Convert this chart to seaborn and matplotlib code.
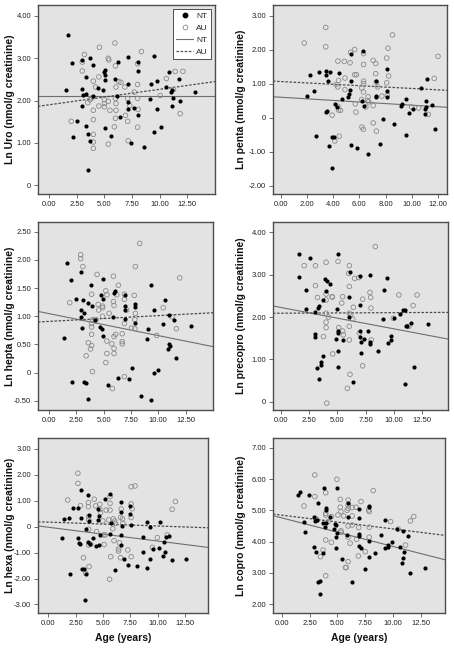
import numpy as np
import pandas as pd
import matplotlib
matplotlib.use("Agg")
import matplotlib.pyplot as plt
import seaborn as sns
from matplotlib.lines import Line2D

# ---- Ln Uro ----
uro_nt_age = [1.7, 1.5, 2.1, 2.2, 2.5, 3.0, 3.0, 3.1, 3.0, 3.3, 3.3, 3.3, 3.5, 3.5, 3.7, 3.7, 3.95, 3.95, 4.4, 4.9,
              5.0, 5.05, 5.05, 5.05, 5.05, 5.6, 6.0, 6.2, 6.1, 6.4, 7.1, 7.1, 7.1, 7.1, 7.4, 7.7, 8.0, 8.0, 8.0, 8.6,
              9.1, 9.2, 9.5, 9.5, 9.8, 9.8, 10.15, 10.6, 10.8, 11.0, 11.1, 11.2, 11.1, 11.7, 11.85, 13.2]
uro_nt = [3.56, 2.24, 2.89, 1.13, 1.52, 2.96, 2.28, 2.13, 1.87, 2.55, 2.16, 1.40, 1.21, 0.35, 3.00, 1.05, 2.84, 2.10, 2.30, 2.26,
          2.67, 2.73, 2.60, 2.49, 1.36, 1.16, 2.52, 2.90, 2.10, 1.61, 3.04, 2.40, 1.96, 1.79, 0.99, 1.83, 2.91, 2.69, 1.65, 0.91,
          2.04, 2.39, 3.06, 1.26, 2.46, 1.80, 1.38, 2.32, 2.67, 2.20, 1.88, 2.06, 2.26, 2.50, 2.00, 2.20]
uro_au_age = [2.0, 3.0, 3.0, 3.2, 3.5, 3.7, 3.85, 4.0, 4.0, 4.0, 4.0, 4.0, 4.0, 4.2, 4.5, 4.5, 4.55, 5.0, 5.0, 5.0,
              5.35, 5.35, 5.4, 5.35, 5.5, 5.9, 5.95, 6.0, 6.05, 6.0, 6.05, 6.05, 6.0, 6.3, 6.5, 6.85, 6.9, 7.1, 7.1, 7.15,
              7.3, 7.7, 8.0, 8.0, 8.0, 8.05, 8.0, 8.35, 10.05, 10.6, 11.4, 11.85, 12.1, 11.25]
uro_au = [1.51, 2.70, 2.91, 3.09, 1.95, 2.02, 2.06, 2.46, 1.77, 1.55, 1.20, 1.02, 0.87, 2.32, 2.56, 1.87, 3.26, 2.02, 1.93, 1.85,
          1.98, 3.00, 2.96, 0.97, 1.77, 1.38, 3.36, 2.82, 2.32, 2.05, 1.93, 1.77, 1.58, 2.45, 2.43, 2.32, 1.65, 2.05, 1.51, 1.05,
          1.88, 2.20, 2.87, 2.38, 2.05, 1.79, 1.37, 3.16, 2.12, 2.52, 2.69, 1.69, 2.69, 2.26]
uro_fit = {"NT": (2.10, 0.0), "AU": (1.90, 0.0366)}   # intercept, slope

# ---- Ln penta ----
penta_nt_age = [2.01, 2.21, 2.57, 2.65, 2.94, 3.43, 3.43, 3.48, 3.55, 3.63, 3.73, 3.70, 3.92, 3.92, 4.09, 4.12, 4.31, 4.41, 4.71, 5.10,
                5.20, 5.29, 5.34, 5.34, 5.34, 5.83, 6.27, 6.20, 6.37, 6.69, 7.25, 7.25, 7.25, 7.55, 7.84, 8.11, 8.11, 8.11, 8.65, 9.17,
                9.26, 9.53, 9.56, 9.80, 10.10, 10.74, 10.98, 11.03, 11.08, 11.08, 11.18, 11.57, 11.76]
penta_nt = [0.64, 1.27, 0.78, -0.52, 1.36, 1.39, 1.26, 0.17, 0.21, 1.08, 1.36, -0.82, -1.49, -0.57, -0.57, 0.42, 0.32, 1.32, 0.54, 0.61,
            0.71, 0.81, 1.08, 1.89, -0.80, -0.88, 1.96, 0.49, 0.36, -1.06, 1.07, 0.64, 0.60, -0.78, -0.03, 1.44, 0.78, 0.61, -0.18, 0.34,
            0.42, 0.56, -0.51, 0.15, 0.25, 0.88, 0.12, 0.25, 0.49, 0.32, 1.15, 0.38, -0.34]
penta_au_age = [1.79, 3.43, 3.43, 3.92, 4.12, 4.22, 4.36, 4.41, 4.36, 4.36, 4.41, 4.46, 4.56, 4.85, 4.90, 4.90, 5.29, 5.34, 5.64, 5.64,
                5.78, 5.69, 5.74, 6.18, 6.18, 6.20, 6.30, 6.32, 6.32, 6.32, 6.32, 6.32, 6.50, 6.62, 6.67, 6.72, 7.06, 7.06, 7.06, 7.25,
                7.25, 7.30, 7.30, 7.40, 7.72, 8.09, 8.09, 8.14, 8.19, 8.24, 8.53, 10.0, 10.54, 11.27, 11.72, 12.01]
penta_au = [2.20, 2.66, 2.09, 0.08, -0.68, 0.98, 1.67, 1.10, 0.91, 0.34, 0.23, -0.54, 0.22, 1.66, 1.17, 0.83, 1.62, 1.93, 2.01, 1.27,
            1.27, 0.41, 0.17, 0.88, 0.54, -0.27, -0.34, 1.89, 1.57, 1.08, 1.01, 0.76, 0.32, 0.51, 0.62, 0.47, 1.69, 0.36, -0.15, 1.60,
            1.30, 1.05, -0.39, 0.91, 0.64, 1.76, 1.03, 0.66, 2.05, 1.23, 2.44, 0.32, 0.29, 0.10, 1.16, 1.81]
penta_fit = {"NT": (0.606, -0.0233), "AU": (1.068, -0.0203)}

# ---- Ln hepta ----
hepta_nt_age = [1.64, 1.4, 2.06, 2.15, 2.45, 2.9, 2.9, 2.95, 3.0, 3.1, 3.2, 3.2, 3.4, 3.6, 3.55, 3.8, 3.97, 4.2, 4.7, 4.87,
                4.8, 4.9, 4.9, 4.9, 5.4, 5.9, 5.95, 6.05, 6.3, 6.95, 6.95, 6.95, 6.95, 7.3, 7.55, 7.85, 7.85, 7.85, 8.45, 8.95,
                9.05, 9.35, 9.35, 9.6, 9.65, 9.97, 10.4, 10.65, 10.87, 10.95, 11.0, 11.1, 11.4, 11.65, 12.96]
hepta_nt = [1.95, 0.62, 1.64, -0.16, 1.30, 1.78, 1.11, 0.99, 0.79, 1.28, 1.05, -0.16, -0.18, -0.46, 1.24, 1.56, 1.18, 0.94, 0.81, 0.78,
            1.38, 1.66, 1.31, 0.65, -0.21, 0.99, 1.42, 1.45, -0.09, 1.38, 1.19, 1.11, 0.95, -0.11, 0.08, 1.21, 1.16, 0.88, -0.41, 0.59,
            0.78, 1.56, -0.48, 0.00, 1.11, 0.05, 0.87, 1.28, 0.42, 1.03, 0.51, 0.47, 0.94, 0.26, 0.82]
hepta_au_age = [1.9, 2.9, 2.9, 3.1, 3.4, 3.6, 3.8, 3.9, 3.9, 3.9, 3.9, 3.9, 3.97, 4.0, 4.3, 4.4, 4.5, 4.55, 4.9, 4.9,
                4.9, 5.2, 5.3, 5.3, 5.3, 5.2, 5.5, 5.75, 5.8, 5.9, 5.9, 5.95, 5.95, 5.95, 5.95, 6.1, 6.2, 6.35, 6.7, 6.7,
                6.7, 6.9, 6.9, 6.9, 6.9, 7.1, 7.55, 7.8, 7.85, 7.85, 7.9, 7.9, 8.3, 9.85, 10.45, 11.25, 11.65, 11.95]
hepta_au = [1.24, 2.09, 2.02, 1.88, 0.30, 0.53, 0.42, 1.39, 0.81, 0.87, 0.68, 0.48, 0.02, 0.94, 0.94, 1.74, 1.21, 1.11, 1.18, 1.15,
            1.00, 1.45, 1.38, 0.56, 0.34, 0.18, 1.05, 0.51, -0.28, 1.26, 1.71, 1.19, 0.64, 0.43, 0.34, 0.68, 1.38, 1.55, 0.69, 0.55,
            0.51, 1.39, 1.30, 0.87, -0.07, 1.11, 0.79, 1.37, 0.94, 0.78, 1.88, 1.05, 2.29, 0.66, 1.15, 0.99, 0.78, 1.68]
hepta_fit = {"NT": (1.047, -0.039), "AU": (0.909, 0.0102)}

# ---- Ln precopro ----
precopro_nt_age = [1.56, 1.56, 2.18, 2.54, 2.24, 3.04, 3.04, 3.04, 3.18, 3.27, 3.36, 3.36, 3.56, 3.56, 3.77, 3.77, 3.95, 4.0, 4.06, 4.36,
                   4.95, 5.06, 5.06, 5.06, 5.06, 5.06, 4.89, 5.5, 6.0, 6.06, 6.12, 6.42, 7.0, 7.0, 7.0, 7.0, 7.09, 7.09, 7.39, 7.74,
                   7.89, 7.89, 7.89, 8.56, 9.06, 9.12, 9.44, 9.5, 9.74, 9.74, 10.03, 10.53, 10.77, 10.97, 11.03, 11.06, 11.18, 11.56, 11.77, 13.03]
precopro_nt = [3.48, 2.94, 2.64, 3.38, 2.20, 2.11, 1.59, 1.52, 0.80, 2.21, 2.25, 0.55, 0.93, 0.86, 1.08, 2.40, 2.90, 2.62, 2.84, 2.78,
               2.20, 3.48, 1.68, 1.63, 1.19, 0.83, 1.48, 1.45, 2.01, 2.48, 3.06, 0.46, 2.97, 2.28, 1.67, 1.54, 1.42, 1.16, 1.48, 1.66,
               2.99, 1.42, 1.37, 1.19, 1.96, 2.64, 2.91, 1.38, 1.56, 1.45, 1.97, 2.07, 2.17, 0.42, 2.17, 1.80, 1.78, 1.85, 0.83, 1.84]
precopro_au_age = [2.06, 3.06, 3.06, 3.24, 3.77, 4.0, 4.0, 4.0, 4.0, 4.0, 4.0, 4.06, 4.21, 4.53, 4.56, 4.59, 5.06, 5.12, 5.39, 5.47,
                   5.47, 5.53, 5.89, 6.0, 6.06, 6.06, 6.06, 6.06, 6.06, 6.12, 6.18, 6.36, 6.42, 6.53, 6.89, 6.95, 7.24, 7.24, 7.89, 7.95,
                   7.98, 8.0, 8.36, 9.95, 10.45, 11.33, 11.71, 12.06]
precopro_au = [3.21, 3.21, 2.74, 2.46, 1.54, 3.29, 2.54, 2.40, 2.09, 1.88, 1.75, -0.03, 2.00, 2.48, 2.47, 1.13, 3.31, 1.75, 2.33, 2.48,
               1.67, 1.58, 0.32, 3.03, 3.21, 2.72, 1.78, 2.09, 1.46, 0.65, 2.05, 1.95, 2.23, 2.91, 2.93, 1.62, 2.42, 0.85, 2.58, 2.46,
               2.21, 1.46, 3.66, 1.97, 2.52, 1.78, 2.27, 2.52]
precopro_fit = {"NT": (2.225, -0.0503), "AU": (2.09, 0.0013)}

# ---- Ln hexa ----
hexa_nt_age = [1.26, 1.47, 1.86, 1.95, 2.25, 2.7, 2.7, 2.76, 2.85, 2.94, 3.0, 3.06, 3.24, 3.36, 3.42, 3.42, 3.6, 3.6, 3.72, 3.72,
               3.84, 4.05, 4.38, 4.5, 4.56, 4.62, 4.65, 4.71, 5.2, 5.6, 5.76, 5.64, 6.06, 6.6, 6.6, 6.6, 6.6, 6.72, 6.9, 7.27,
               7.5, 7.5, 7.57, 8.1, 8.65, 8.65, 9.0, 9.0, 9.3, 9.34, 9.6, 10.18, 10.1, 10.5, 10.57, 10.66, 10.72, 11.05, 11.32, 12.58]
hexa_nt = [-0.45, 0.28, 0.32, -1.84, 0.71, 0.73, -0.42, -0.62, -0.68, 0.35, 1.42, -1.65, -1.65, -2.81, -0.09, -1.83, 1.21, -0.58, 0.45, 0.22,
           -0.68, -0.45, -0.75, 0.26, 0.69, 0.41, -0.71, -0.32, 1.08, 1.26, 0.13, -0.28, -1.67, 0.97, 0.58, -0.32, -0.71, 0.03, -1.26, -1.48,
           0.81, 0.49, 0.05, -1.50, -0.39, -0.99, 0.18, -1.61, 0.00, -1.26, -0.85, 0.17, -0.84, -1.13, -0.60, -0.97, -0.39, -0.35, -1.29, -1.25]
hexa_au_age = [1.77, 2.7, 2.7, 2.94, 3.21, 3.42, 3.66, 3.66, 3.69, 3.69, 3.69, 3.69, 3.72, 3.87, 4.2, 4.32, 4.41, 4.71, 4.71, 4.77,
               4.98, 5.04, 5.1, 5.2, 5.28, 5.52, 5.64, 5.64, 5.64, 5.6, 5.7, 5.9, 5.94, 6.0, 6.06, 6.12, 6.42, 6.42, 6.5, 6.6,
               6.6, 6.66, 6.78, 6.81, 7.27, 7.57, 7.57, 7.57, 7.57, 7.66, 7.93, 9.97, 9.52, 10.87, 11.32, 11.62]
hexa_au = [1.03, 2.06, 1.67, 0.81, -1.20, -1.80, 0.93, 0.77, 0.39, 0.26, -0.10, -0.71, -1.54, -0.68, 1.06, 0.80, -0.19, 0.86, 0.67, 0.54,
           0.22, -0.32, -0.69, -0.32, 0.64, 0.26, 1.16, 0.90, 0.64, -2.03, -1.16, -0.08, 0.30, -0.54, 0.22, 0.13, -0.86, -0.94, -0.62, 0.36,
           -1.20, 0.68, 0.30, 0.13, -0.90, 1.54, 0.88, 0.35, -1.16, 0.69, 1.57, -0.42, -0.80, -0.32, 0.67, 0.97]
hexa_fit = {"NT": (-0.023, -0.0532), "AU": (0.175, -0.0149)}

# ---- Ln copro ----
copro_nt_age = [1.43, 1.64, 2.02, 2.11, 2.44, 2.91, 2.94, 2.97, 3.06, 3.18, 3.24, 3.27, 3.45, 3.45, 3.68, 3.71, 3.83, 3.89, 3.95, 3.95,
                4.01, 4.31, 4.66, 4.78, 4.9, 4.9, 4.9, 4.93, 4.99, 5.44, 5.94, 5.97, 5.85, 6.3, 6.92, 6.92, 6.92, 6.92, 6.92, 7.1,
                7.52, 7.81, 7.81, 7.81, 7.81, 8.41, 8.94, 9.3, 9.3, 9.6, 9.6, 9.89, 10.4, 10.6, 10.78, 10.9, 10.99, 10.9, 11.38, 11.58, 12.92]
copro_nt = [5.49, 5.57, 4.64, 4.32, 5.49, 3.84, 4.80, 4.66, 3.68, 4.69, 5.24, 2.72, 2.74, 2.32, 4.61, 3.63, 5.72, 4.46, 5.06, 5.01,
            4.59, 4.78, 4.39, 4.55, 4.53, 4.16, 3.81, 5.70, 4.29, 3.44, 5.22, 4.78, 4.21, 2.72, 5.03, 4.74, 4.23, 4.18, 3.86, 3.79,
            3.12, 5.14, 5.10, 4.03, 3.52, 3.63, 4.21, 4.69, 3.79, 3.89, 3.82, 4.00, 4.40, 3.84, 3.33, 3.47, 3.68, 4.35, 4.18, 3.01, 3.15]
copro_au_age = [1.99, 2.97, 2.97, 3.06, 3.18, 3.48, 3.71, 3.95, 3.95, 3.95, 3.95, 3.95, 4.16, 4.46, 4.46, 4.96, 5.05, 5.26, 5.26, 5.32,
                5.32, 5.35, 5.56, 5.73, 5.79, 5.88, 5.97, 5.97, 5.97, 5.97, 5.97, 5.97, 6.15, 6.33, 6.33, 6.33, 6.68, 6.74, 6.89, 6.92,
                7.13, 7.52, 7.81, 7.87, 7.87, 7.87, 8.23, 9.8, 10.49, 11.14, 11.58, 11.88]
copro_au = [5.14, 6.13, 5.44, 4.74, 4.69, 3.52, 3.73, 5.56, 4.90, 4.85, 4.05, 2.91, 4.64, 4.80, 3.98, 5.99, 4.85, 5.35, 5.10, 4.96,
            4.35, 4.30, 4.82, 3.17, 3.17, 5.00, 5.33, 5.17, 5.06, 4.50, 4.14, 3.36, 3.95, 4.53, 5.09, 4.82, 5.10, 4.07, 3.54, 4.45,
            5.28, 3.68, 5.01, 4.96, 4.46, 4.14, 5.63, 4.64, 4.40, 3.89, 4.66, 4.80]
copro_fit = {"NT": (4.757, -0.091), "AU": (4.845, -0.0439)}

x_ticks_25 = [0, 2.5, 5, 7.5, 10, 12.5]
x_ticks_2 = [0, 2, 4, 6, 8, 10, 12]

sns.set_style("white")
plt.rcParams["font.family"] = ["Liberation Sans", "DejaVu Sans"]
plt.rcParams["axes.unicode_minus"] = False

panels = [
    dict(nt_x=uro_nt_age, nt_y=uro_nt, au_x=uro_au_age, au_y=uro_au, fit=uro_fit,
         label="Ln Uro (nmol/g creatinine)", xlim=(-1.0, 15.0), ylim=(-0.21, 4.26),
         yticks=[0, 1, 2, 3, 4], xticks=x_ticks_25, rect=[0.0837, 0.7011, 0.3899, 0.2912]),
    dict(nt_x=penta_nt_age, nt_y=penta_nt, au_x=penta_au_age, au_y=penta_au, fit=penta_fit,
         label="Ln penta (nmol/g creatinine)", xlim=(-0.6, 12.7), ylim=(-2.24, 3.32),
         yticks=[-2, -1, 0, 1, 2, 3], xticks=x_ticks_2, rect=[0.6013, 0.7011, 0.3833, 0.2912]),
    dict(nt_x=hepta_nt_age, nt_y=hepta_nt, au_x=hepta_au_age, au_y=hepta_au, fit=hepta_fit,
         label="Ln hepta (nmol/g creatinine)", xlim=(-1.0, 15.0), ylim=(-0.66, 2.67),
         yticks=[-0.5, 0, 0.5, 1, 1.5, 2, 2.5], xticks=x_ticks_25, rect=[0.0837, 0.3683, 0.3855, 0.2897]),
    dict(nt_x=precopro_nt_age, nt_y=precopro_nt, au_x=precopro_au_age, au_y=precopro_au, fit=precopro_fit,
         label="Ln precopro (nmol/g creatinine)", xlim=(-0.7, 14.8), ylim=(-0.19, 4.24),
         yticks=[0, 1, 2, 3, 4], xticks=x_ticks_25, rect=[0.6013, 0.3683, 0.3855, 0.2897]),
    dict(nt_x=hexa_nt_age, nt_y=hexa_nt, au_x=hexa_au_age, au_y=hexa_au, fit=hexa_fit,
         label="Ln hexa (nmol/g creatinine)", xlim=(-0.95, 14.6), ylim=(-3.33, 3.42),
         yticks=[-3, -2, -1, 0, 1, 2, 3], xticks=x_ticks_25, rect=[0.0837, 0.0555, 0.3744, 0.2696]),
    dict(nt_x=copro_nt_age, nt_y=copro_nt, au_x=copro_au_age, au_y=copro_au, fit=copro_fit,
         label="Ln copro (nmol/g creatinine)", xlim=(-0.8, 14.7), ylim=(1.72, 7.31),
         yticks=[2, 3, 4, 5, 6, 7], xticks=x_ticks_25, rect=[0.6013, 0.0555, 0.3789, 0.2696]),
]

def fmt(v):
    return "0" if v == 0 else "%.2f" % v

fig = plt.figure(figsize=(4.54, 6.49), dpi=100)
for i, p in enumerate(panels):
    ax = fig.add_axes(p["rect"])
    ax.set_facecolor("#e3e3e3")

    nt_df = pd.DataFrame({"age": p["nt_x"], "val": p["nt_y"]})
    au_df = pd.DataFrame({"age": p["au_x"], "val": p["au_y"]})
    sns.scatterplot(data=au_df, x="age", y="val", ax=ax, marker="o", s=11, linewidth=0.6, zorder=3)
    coll = ax.collections[-1]
    coll.set_facecolor("none")
    coll.set_edgecolor("#8a8a8a")
    sns.scatterplot(data=nt_df, x="age", y="val", ax=ax, marker="o", s=9, color="black", linewidth=0, zorder=4)

    xs = np.array(p["xlim"])
    b0, b1 = p["fit"]["NT"]
    sns.lineplot(x=xs, y=b0 + b1 * xs, ax=ax, color="#6e6e6e", linewidth=0.8, zorder=2)
    b0, b1 = p["fit"]["AU"]
    sns.lineplot(x=xs, y=b0 + b1 * xs, ax=ax, color="#4a4a4a", linewidth=0.9,
                 linestyle=(0, (2.0, 1.3)), zorder=2)

    ax.set_xlim(p["xlim"])
    ax.set_ylim(p["ylim"])
    ax.set_xticks(p["xticks"])
    ax.set_xticklabels(["%.2f" % v for v in p["xticks"]])
    ax.set_yticks(p["yticks"])
    ax.set_yticklabels([fmt(v) for v in p["yticks"]])
    ax.tick_params(direction="out", length=3, width=0.6, color="#555555",
                   labelsize=5.5, labelcolor="#222222", pad=2)
    ax.tick_params(left=True, bottom=True)
    for s in ax.spines.values():
        s.set_color("#4d4d4d")
        s.set_linewidth(1.0)

    ax.set_ylabel(p["label"], fontsize=7.5, fontweight="bold", color="#111111")
    # right edge of the rotated label sits ~22 px left of the axes
    w_px = p["rect"][2] * 454
    if i % 2 == 0:
        ax.yaxis.set_label_coords(-23.0 / w_px, 0.5)
    else:
        ax.yaxis.set_label_coords(-27.0 / w_px, 0.5)
    if i >= 4:
        ax.set_xlabel("Age (years)", fontsize=7.5, fontweight="bold", color="#111111")
        ax.xaxis.set_label_coords(0.5, -0.115)
    else:
        ax.set_xlabel("")

    if i == 0:
        handles = [
            Line2D([], [], marker="o", linestyle="none", color="black", markersize=3.2),
            Line2D([], [], marker="o", linestyle="none", markerfacecolor="none",
                   markeredgecolor="#8a8a8a", markeredgewidth=0.6, markersize=3.4),
            Line2D([], [], color="#6e6e6e", linewidth=0.8),
            Line2D([], [], color="#4a4a4a", linewidth=0.9, linestyle=(0, (2.0, 1.3))),
        ]
        leg = ax.legend(handles, ["NT", "AU", "NT", "AU"], loc="upper right",
                        fontsize=6, frameon=True, fancybox=False, handlelength=2.0,
                        handletextpad=0.4, borderpad=0.35, labelspacing=0.5,
                        borderaxespad=0.5)
        leg.get_frame().set_edgecolor("#333333")
        leg.get_frame().set_linewidth(0.6)
        leg.get_frame().set_facecolor("white")
        leg.get_frame().set_alpha(1)

fig.savefig("out.png", dpi=100, facecolor="white")
